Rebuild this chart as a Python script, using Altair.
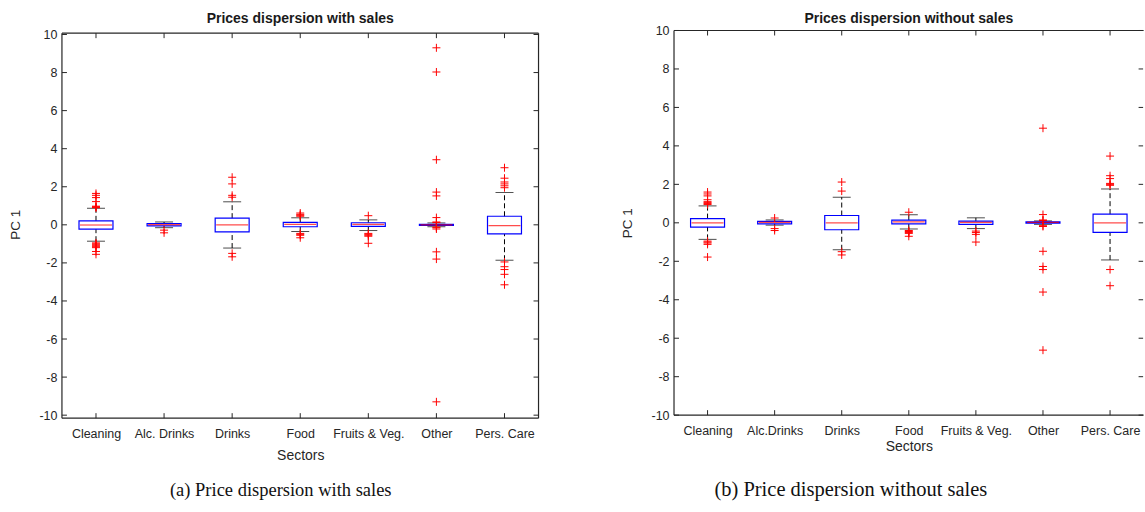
import altair as alt
import pandas as pd

# ---------------- data ----------------
sectors_a = ["Cleaning", "Alc. Drinks", "Drinks", "Food", "Fruits & Veg.", "Other", "Pers. Care"]
sectors_b = ["Cleaning", "Alc.Drinks", "Drinks", "Food", "Fruits & Veg.", "Other", "Pers. Care"]

# (a) with sales
q1_a = [-0.23, -0.05, -0.37, -0.10, -0.08, -0.03, -0.48]
med_a = [-0.01, 0.01, 0.00, 0.02, 0.02, 0.00, -0.04]
q3_a = [0.21, 0.07, 0.35, 0.13, 0.11, 0.03, 0.45]
wlo_a = [-0.86, -0.15, -1.22, -0.35, -0.30, -0.10, -1.86]
whi_a = [0.87, 0.15, 1.21, 0.37, 0.26, 0.10, 1.70]
out_cleaning_a = [0.90, 0.92, 0.95, 0.98, 1.22, 1.43, 1.55, 1.65,
                  -0.95, -1.00, -1.05, -1.10, -1.15, -1.20, -1.40, -1.55]
out_alc_a = [-0.28, -0.42]
out_drinks_a = [1.45, 1.55, 2.15, 2.50, -1.50, -1.68]
out_food_a = [0.45, 0.50, 0.55, 0.62, -0.45, -0.50, -0.55, -0.68]
out_fruits_a = [0.48, -0.45, -0.50, -0.55, -0.60, -0.97]
out_other_a = [9.30, 8.03, 3.42, 1.72, 1.52, 0.38, 0.15, 0.12,
               -0.12, -0.15, -0.22, -1.42, -1.80, -9.30]
out_pers_a = [1.95, 2.05, 2.15, 2.25, 2.45, 3.00, -1.95, -2.20, -2.35, -2.60, -3.15]
outliers_a = [out_cleaning_a, out_alc_a, out_drinks_a, out_food_a,
              out_fruits_a, out_other_a, out_pers_a]

# (b) without sales
q1_b = [-0.22, -0.05, -0.36, -0.05, -0.08, -0.02, -0.50]
med_b = [0.00, 0.02, 0.00, 0.05, 0.02, 0.02, 0.00]
q3_b = [0.22, 0.08, 0.38, 0.14, 0.09, 0.05, 0.45]
wlo_b = [-0.86, -0.12, -1.40, -0.32, -0.30, -0.08, -1.93]
whi_b = [0.88, 0.15, 1.33, 0.42, 0.26, 0.10, 1.76]
out_cleaning_b = [0.95, 1.00, 1.05, 1.10, 1.20, 1.40, 1.50, 1.60,
                  -0.95, -1.00, -1.05, -1.12, -1.78]
out_alc_b = [0.25, -0.30, -0.40]
out_drinks_b = [1.65, 2.12, -1.50, -1.67]
out_food_b = [0.55, -0.40, -0.45, -0.50, -0.55, -0.70]
out_fruits_b = [-0.43, -0.50, -0.60, -1.00]
out_other_b = [4.92, 0.43, 0.15, 0.12, -0.15, -0.19, -1.48, -2.27, -2.43, -3.60, -6.62]
out_pers_b = [1.95, 2.00, 2.05, 2.30, 2.45, 3.47, -2.43, -3.27]
outliers_b = [out_cleaning_b, out_alc_b, out_drinks_b, out_food_b,
              out_fruits_b, out_other_b, out_pers_b]

y_ticks = [-10, -8, -6, -4, -2, 0, 2, 4, 6, 8, 10]

titles = ["Prices dispersion with sales", "Prices dispersion without sales"]
captions = ["(a) Price dispersion with sales", "(b) Price dispersion without sales"]

# ---------------- styling ----------------
AX = "#262626"
BOX = "#0000ff"
MED = "#ff0000"
FONT = "Liberation Sans"
BOXW = 34
CAPW = 18
TICKLEN = 5


def panel(sectors, q1, med, q3, wlo, whi, outliers, title, caption,
          width, height, ydom, frame_top, frame_bot, right_line,
          x_title_pad, cap_x, cap_y, cap_size, title_offset):
    ppu = height / (ydom[1] - ydom[0])
    stats = pd.DataFrame({"sector": sectors, "q1": q1, "med": med, "q3": q3,
                          "lo": wlo, "hi": whi})
    outs = pd.DataFrame([{"sector": s, "v": v}
                         for s, vs in zip(sectors, outliers) for v in vs])
    ticks_df = pd.DataFrame({"t": y_ticks})
    frame_df = pd.DataFrame({"ft": [frame_top], "fb": [frame_bot],
                             "ft2": [frame_top - TICKLEN / ppu],
                             "fb2": [frame_bot + TICKLEN / ppu]})
    cats = pd.DataFrame({"sector": sectors, "ft": frame_top, "fb": frame_bot,
                         "ft2": frame_top - TICKLEN / ppu,
                         "fb2": frame_bot + TICKLEN / ppu})
    one = pd.DataFrame({"k": [0]})

    xaxis = alt.Axis(title="Sectors", labelAngle=0, ticks=False, domain=False, grid=False,
                     labelPadding=9, titlePadding=x_title_pad, labelFontSize=12.5,
                     titleFontSize=14, titleFontWeight="normal", labelColor=AX,
                     titleColor=AX, labelFont=FONT, titleFont=FONT)
    yaxis = alt.Axis(title="PC 1", values=y_ticks, ticks=False, domain=False, grid=False,
                     labelPadding=5, titlePadding=16, labelFontSize=12.5, labelFlush=False,
                     labelOverlap=False,
                     labelExpr="datum.value < 0 ? '-' + abs(datum.value) : '' + datum.value",
                     titleFontSize=13.5, titleFontWeight="normal", labelColor=AX,
                     titleColor=AX, labelFont=FONT, titleFont=FONT)
    xs = alt.Scale(type="point", domain=sectors, padding=0.5)
    ys = alt.Scale(domain=ydom, nice=False, zero=False)

    def X():
        return alt.X("sector:N", scale=xs, axis=xaxis, sort=sectors)

    def Y(f):
        return alt.Y(f, scale=ys, axis=yaxis, title="PC 1")

    whisk_hi = alt.Chart(stats).mark_rule(color="#000000", strokeDash=[5, 3], strokeWidth=1).encode(
        x=X(), y=Y("q3:Q"), y2="hi:Q")
    whisk_lo = alt.Chart(stats).mark_rule(color="#000000", strokeDash=[5, 3], strokeWidth=1).encode(
        x=X(), y=Y("lo:Q"), y2="q1:Q")
    cap_hi = alt.Chart(stats).mark_tick(size=CAPW, thickness=1, color="#000000").encode(
        x=X(), y=Y("hi:Q"))
    cap_lo = alt.Chart(stats).mark_tick(size=CAPW, thickness=1, color="#000000").encode(
        x=X(), y=Y("lo:Q"))
    box = alt.Chart(stats).mark_bar(size=BOXW, fillOpacity=0, stroke=BOX, strokeWidth=1.2).encode(
        x=X(), y=Y("q1:Q"), y2="q3:Q")
    median = alt.Chart(stats).mark_tick(size=BOXW - 2, thickness=1.2, color=MED).encode(
        x=X(), y=Y("med:Q"))
    pts = alt.Chart(outs).mark_point(shape="M-1,0L1,0M0,-1L0,1", size=64, filled=False,
                                     stroke=MED, strokeWidth=1, opacity=1).encode(
        x=X(), y=Y("v:Q"))

    # frame (MATLAB style box) and inward ticks
    top = alt.Chart(frame_df).mark_rule(color=AX, strokeWidth=1.2).encode(
        x=alt.value(0), x2=alt.value(width), y=Y("ft:Q"))
    bot = alt.Chart(frame_df).mark_rule(color=AX, strokeWidth=1.2).encode(
        x=alt.value(0), x2=alt.value(width), y=Y("fb:Q"))
    left = alt.Chart(frame_df).mark_rule(color=AX, strokeWidth=1.2).encode(
        x=alt.value(0), y=Y("ft:Q"), y2="fb:Q")
    layers = [whisk_hi, whisk_lo, cap_hi, cap_lo, box, median, pts, top, bot, left]
    if right_line:
        layers.append(alt.Chart(frame_df).mark_rule(color=AX, strokeWidth=1.2).encode(
            x=alt.value(width), y=Y("ft:Q"), y2="fb:Q"))
    ytl = alt.Chart(ticks_df).mark_rule(color=AX, strokeWidth=1).encode(
        x=alt.value(0), x2=alt.value(TICKLEN), y=Y("t:Q"))
    ytr = alt.Chart(ticks_df).mark_rule(color=AX, strokeWidth=1).encode(
        x=alt.value(width - TICKLEN), x2=alt.value(width - 0.5), y=Y("t:Q"))
    xtb = alt.Chart(cats).mark_rule(color=AX, strokeWidth=1).encode(
        x=X(), y=Y("fb:Q"), y2="fb2:Q")
    xtt = alt.Chart(cats).mark_rule(color=AX, strokeWidth=1).encode(
        x=X(), y=Y("ft:Q"), y2="ft2:Q")
    cap = alt.Chart(one).mark_text(font="Liberation Serif", fontSize=cap_size, color="#111111",
                                   baseline="middle", align="center").encode(
        x=alt.value(cap_x), y=alt.value(cap_y), text=alt.datum(caption))
    layers += [ytl, ytr, xtb, xtt, cap]

    return alt.layer(*layers).properties(
        width=width, height=height,
        title=alt.TitleParams(text=title, fontSize=14, fontWeight="bold", font=FONT,
                              color="#1a1a1a", anchor="middle", offset=title_offset),
    )


# left panel: plot area x 61.7..538.4, y 29.7..417.7 (frame top at 32.3)
left_panel = panel(sectors_a, q1_a, med_a, q3_a, wlo_a, whi_a, outliers_a,
                   titles[0], captions[0], width=477, height=388,
                   ydom=[-10.157, 10.21], frame_top=10.07, frame_bot=-10.157,
                   right_line=True, x_title_pad=9.3, cap_x=219, cap_y=460,
                   cap_size=18.5, title_offset=2.4)
# right panel: plot area x 674..1144, y 29.7..415
right_panel = panel(sectors_b, q1_b, med_b, q3_b, wlo_b, whi_b, outliers_b,
                    titles[1], captions[1], width=470, height=385,
                    ydom=[-10, 10], frame_top=10, frame_bot=-10,
                    right_line=False, x_title_pad=3.2, cap_x=177, cap_y=460,
                    cap_size=20.5, title_offset=-1.6)

chart = alt.hconcat(left_panel, right_panel, spacing=135.6, bounds="flush").properties(
    padding={"left": 8, "top": 11.3, "right": 0, "bottom": 0},
    background="white",
).configure_view(stroke=None).configure_axisY(labelOverlap=False)

chart.save("out.html", embed_options={"renderer": "svg", "actions": False})
